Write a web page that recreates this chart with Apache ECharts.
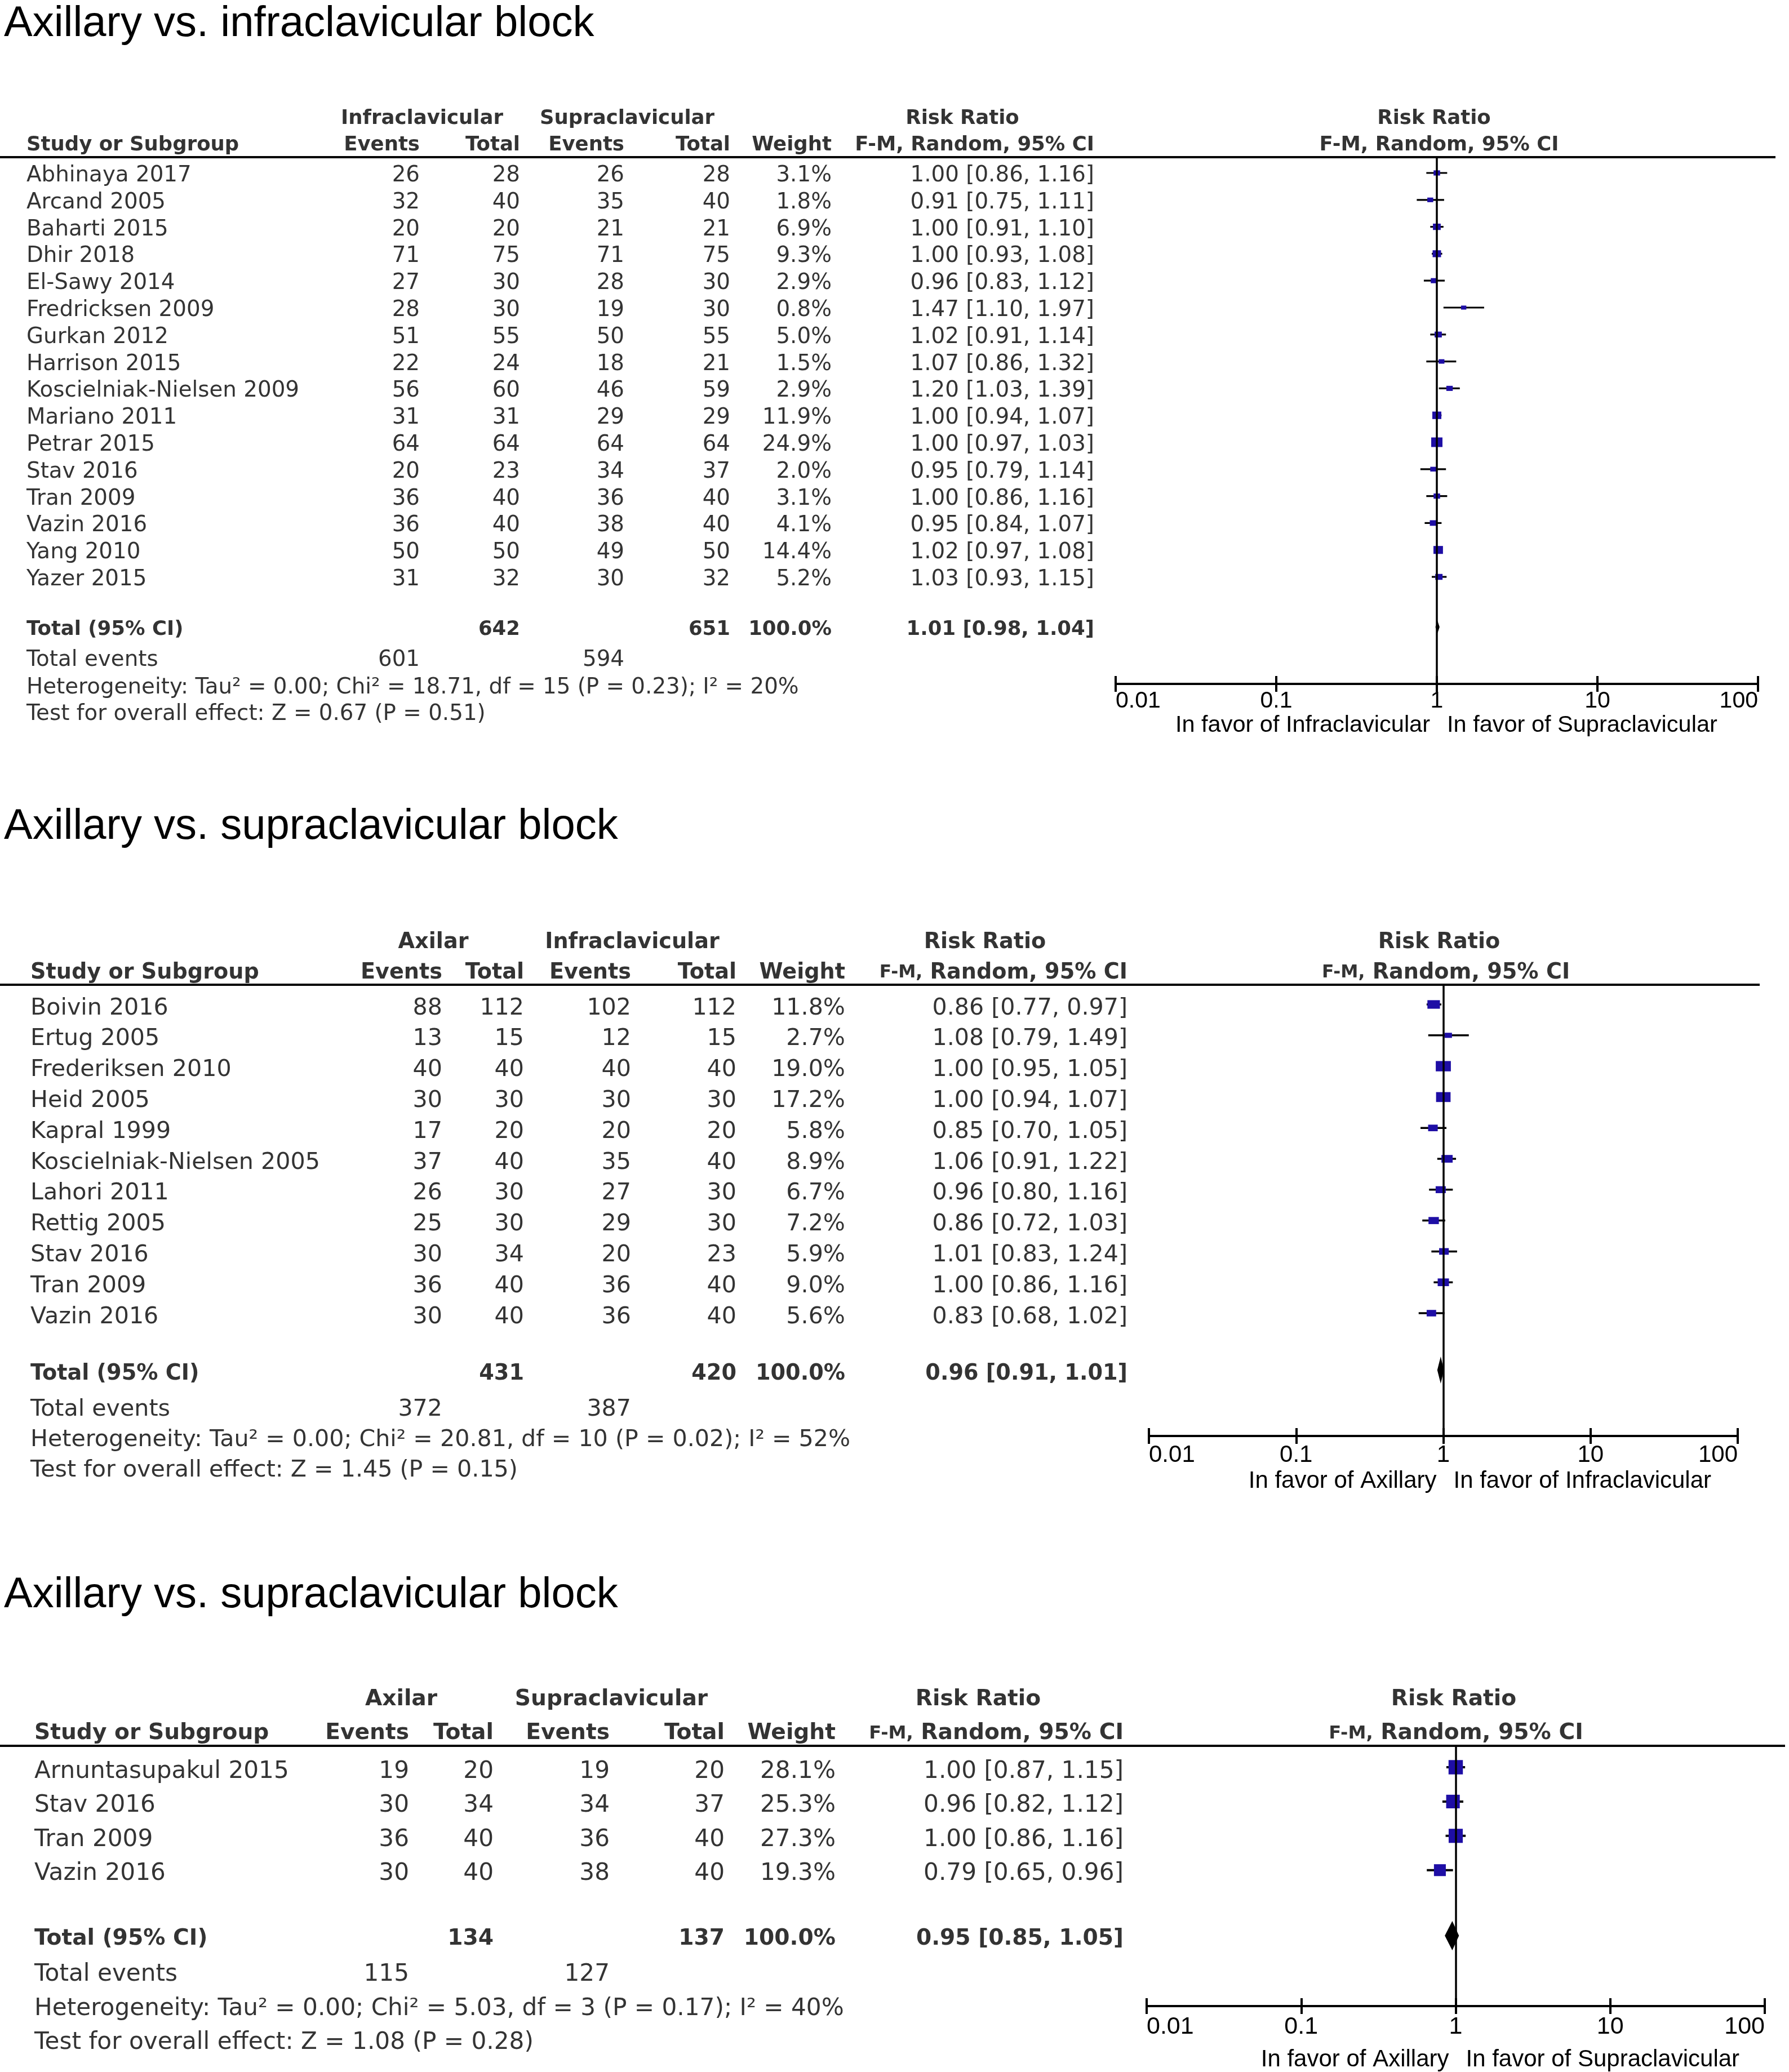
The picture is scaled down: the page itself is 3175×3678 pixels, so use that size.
<!DOCTYPE html>
<html><head><meta charset="utf-8">
<script src="https://cdn.jsdelivr.net/npm/echarts@6/dist/echarts.min.js"></script>
<style>html,body{margin:0;padding:0;background:#fff}#c{width:3175px;height:3678px}</style>
</head><body><div id="c"></div>
<script>
// ================= DATA =================
const titles = ['Axillary vs. infraclavicular block', 'Axillary vs. supraclavicular block', 'Axillary vs. supraclavicular block'];
const tickLabels = ['0.01', '0.1', '1', '10', '100'];

// Panel 1
const groups1 = ['Infraclavicular', 'Supraclavicular'];
const favors1 = ['In favor of Infraclavicular', 'In favor of Supraclavicular'];
const studies1 = ['Abhinaya 2017','Arcand 2005','Baharti 2015','Dhir 2018','El-Sawy 2014','Fredricksen 2009','Gurkan 2012','Harrison 2015','Koscielniak-Nielsen 2009','Mariano 2011','Petrar 2015','Stav 2016','Tran 2009','Vazin 2016','Yang 2010','Yazer 2015'];
const eventsA1 = [26,32,20,71,27,28,51,22,56,31,64,20,36,36,50,31];
const totalsA1 = [28,40,20,75,30,30,55,24,60,31,64,23,40,40,50,32];
const eventsB1 = [26,35,21,71,28,19,50,18,46,29,64,34,36,38,49,30];
const totalsB1 = [28,40,21,75,30,30,55,21,59,29,64,37,40,40,50,32];
const weights1 = [3.1,1.8,6.9,9.3,2.9,0.8,5.0,1.5,2.9,11.9,24.9,2.0,3.1,4.1,14.4,5.2];
const rr1 = [1.00,0.91,1.00,1.00,0.96,1.47,1.02,1.07,1.20,1.00,1.00,0.95,1.00,0.95,1.02,1.03];
const lo1 = [0.86,0.75,0.91,0.93,0.83,1.10,0.91,0.86,1.03,0.94,0.97,0.79,0.86,0.84,0.97,0.93];
const hi1 = [1.16,1.11,1.10,1.08,1.12,1.97,1.14,1.32,1.39,1.07,1.03,1.14,1.16,1.07,1.08,1.15];
const sums1 = [642, 651, 601, 594];          // totalA, totalB, eventsA, eventsB
const pooled1 = [1.01, 0.98, 1.04];
const stats1 = ['Heterogeneity: Tau² = 0.00; Chi² = 18.71, df = 15 (P = 0.23); I² = 20%', 'Test for overall effect: Z = 0.67 (P = 0.51)'];

// Panel 2
const groups2 = ['Axilar', 'Infraclavicular'];
const favors2 = ['In favor of Axillary', 'In favor of Infraclavicular'];
const studies2 = ['Boivin 2016','Ertug 2005','Frederiksen 2010','Heid 2005','Kapral 1999','Koscielniak-Nielsen 2005','Lahori 2011','Rettig 2005','Stav 2016','Tran 2009','Vazin 2016'];
const eventsA2 = [88,13,40,30,17,37,26,25,30,36,30];
const totalsA2 = [112,15,40,30,20,40,30,30,34,40,40];
const eventsB2 = [102,12,40,30,20,35,27,29,20,36,36];
const totalsB2 = [112,15,40,30,20,40,30,30,23,40,40];
const weights2 = [11.8,2.7,19.0,17.2,5.8,8.9,6.7,7.2,5.9,9.0,5.6];
const rr2 = [0.86,1.08,1.00,1.00,0.85,1.06,0.96,0.86,1.01,1.00,0.83];
const lo2 = [0.77,0.79,0.95,0.94,0.70,0.91,0.80,0.72,0.83,0.86,0.68];
const hi2 = [0.97,1.49,1.05,1.07,1.05,1.22,1.16,1.03,1.24,1.16,1.02];
const sums2 = [431, 420, 372, 387];
const pooled2 = [0.96, 0.91, 1.01];
const stats2 = ['Heterogeneity: Tau² = 0.00; Chi² = 20.81, df = 10 (P = 0.02); I² = 52%', 'Test for overall effect: Z = 1.45 (P = 0.15)'];

// Panel 3
const groups3 = ['Axilar', 'Supraclavicular'];
const favors3 = ['In favor of Axillary', 'In favor of Supraclavicular'];
const studies3 = ['Arnuntasupakul 2015','Stav 2016','Tran 2009','Vazin 2016'];
const eventsA3 = [19,30,36,30];
const totalsA3 = [20,34,40,40];
const eventsB3 = [19,34,36,38];
const totalsB3 = [20,37,40,40];
const weights3 = [28.1,25.3,27.3,19.3];
const rr3 = [1.00,0.96,1.00,0.79];
const lo3 = [0.87,0.82,0.86,0.65];
const hi3 = [1.15,1.12,1.16,0.96];
const sums3 = [134, 137, 115, 127];
const pooled3 = [0.95, 0.85, 1.05];
const stats3 = ['Heterogeneity: Tau² = 0.00; Chi² = 5.03, df = 3 (P = 0.17); I² = 40%', 'Test for overall effect: Z = 1.08 (P = 0.28)'];

// ================= LAYOUT (pixels) =================
const W = 3175;
const BLUE = '#1e0ea5';
const TFONT = 'DejaVu Sans';
const HFONT = 'Liberation Sans';
const layouts = [
  { titleTop: 5, fsR: 38.8, fsB: 35.5, tOff: 5, y0: 307, dy: 47.8, h1Y: 206, h2Y: 253, lineY: 279, lineX1: 3151,
    totY: 1113, teY: 1167, hetY: 1216, testY: 1263, axisY: 1214, ax0: 1980, ax1: 3120,
    nameX: 47, cEvA: 745, cTotA: 923, cEvB: 1108, cTotB: 1296, cW: 1476, cCI: 1942,
    gA: 749, gB: 1113, rrC: 1708, fC1: 2545, fC2: 2554, smallFM: false,
    tickFs: 41, nameFs: 41.5, labMargin: 10, nameGap: 53, diamH: 11, ciW: 3.2,
    sq: s => [7 + 2.6 * s, 5 + 2.4 * s] },
  { titleTop: 1430, fsR: 41.2, fsB: 38.2, tOff: 7, y0: 1783, dy: 54.8, h1Y: 1666, h2Y: 1720, lineY: 1748, lineX1: 3123,
    totY: 2432, teY: 2495, hetY: 2549, testY: 2603, axisY: 2549, ax0: 2039, ax1: 3084,
    nameX: 54, cEvA: 785, cTotA: 930, cEvB: 1120, cTotB: 1307, cW: 1500, cCI: 2001,
    gA: 769, gB: 1122, rrC: 1748, fC1: 2554, fC2: 2566, smallFM: true,
    tickFs: 42, nameFs: 42, labMargin: 13, nameGap: 59, diamH: 24, ciW: 3.5,
    sq: s => [5 + 5.0 * s, 3.5 + 3.4 * s] },
  { titleTop: 2794, fsR: 42.2, fsB: 39.2, tOff: 9, y0: 3137, dy: 60.9, h1Y: 3008, h2Y: 3069, lineY: 3100, lineX1: 3168,
    totY: 3436, teY: 3500, hetY: 3561, testY: 3622, axisY: 3561, ax0: 2035, ax1: 3132,
    nameX: 61, cEvA: 726, cTotA: 876, cEvB: 1082, cTotB: 1286, cW: 1483, cCI: 1994,
    gA: 712, gB: 1085, rrC: 1736, fC1: 2580, fC2: 2584, smallFM: true,
    tickFs: 43, nameFs: 42, labMargin: 16, nameGap: 74, diamH: 26, ciW: 4,
    sq: s => [4.8 * s, 4.8 * s] }
];

const panels = [
  { title: titles[0], groups: groups1, favors: favors1, studies: studies1, evA: eventsA1, totA: totalsA1, evB: eventsB1, totB: totalsB1, w: weights1, rr: rr1, lo: lo1, hi: hi1, sums: sums1, pooled: pooled1, stats: stats1, lay: layouts[0] },
  { title: titles[1], groups: groups2, favors: favors2, studies: studies2, evA: eventsA2, totA: totalsA2, evB: eventsB2, totB: totalsB2, w: weights2, rr: rr2, lo: lo2, hi: hi2, sums: sums2, pooled: pooled2, stats: stats2, lay: layouts[1] },
  { title: titles[2], groups: groups3, favors: favors3, studies: studies3, evA: eventsA3, totA: totalsA3, evB: eventsB3, totB: totalsB3, w: weights3, rr: rr3, lo: lo3, hi: hi3, sums: sums3, pooled: pooled3, stats: stats3, lay: layouts[2] }
];

const ci = (a, b, c) => a.toFixed(2) + ' [' + b.toFixed(2) + ', ' + c.toFixed(2) + ']';

const grid = [], xAxis = [], yAxis = [], series = [], title = [];

panels.forEach((P) => {
  const L = P.lay;
  const r = y => (y - L.y0) / L.dy;

  title.push({ text: P.title, left: 7, top: L.titleTop, padding: 0,
    textStyle: { fontFamily: HFONT, fontSize: 76, fontWeight: 'normal', color: '#000' } });

  // ---------- table grid ----------
  const tMin = r(L.h1Y) - 1, tMax = r(L.testY) + 1;
  grid.push({ left: 0, width: W, top: L.y0 + tMin * L.dy, height: (tMax - tMin) * L.dy });
  const tg = grid.length - 1;
  xAxis.push({ gridIndex: tg, type: 'value', min: 0, max: W, show: false });
  const tx = xAxis.length - 1;
  yAxis.push({ gridIndex: tg, type: 'value', min: tMin, max: tMax, inverse: true, show: false });
  const ty = yAxis.length - 1;

  const rich = { fm: { fontFamily: TFONT, fontSize: L.fsB * 0.82, fontWeight: 'bold', color: '#000' } };
  const addText = (items, align, bold, extra) => {
    series.push(Object.assign({
      type: 'scatter', xAxisIndex: tx, yAxisIndex: ty, symbolSize: 0, silent: true, animation: false,
      data: items.map(it => ({ value: [it[0], it[1]], label: { formatter: String(it[2]) } })),
      label: { show: true, position: [0, 0], offset: [0, L.tOff], align: align, verticalAlign: 'middle',
        fontFamily: TFONT, fontSize: bold ? L.fsB : L.fsR, fontWeight: bold ? 'bold' : 'normal', color: '#000', rich: rich }
    }, extra || {}));
  };
  const col = (x, arr, fmt) => arr.map((v, i) => [x, i, fmt ? fmt(v) : v]);

  // header rows
  const fmText = L.smallFM ? '{fm|F-M,} Random, 95% CI' : 'F-M, Random, 95% CI';
  addText([[L.gA, r(L.h1Y), P.groups[0]], [L.gB, r(L.h1Y), P.groups[1]], [L.rrC, r(L.h1Y), 'Risk Ratio'],
           [L.fC1, r(L.h1Y), 'Risk Ratio'], [L.fC2, r(L.h2Y), fmText]], 'center', true);
  addText([[L.nameX, r(L.h2Y), 'Study or Subgroup']], 'left', true, {
    markLine: { silent: true, symbol: ['none', 'none'], label: { show: false }, animation: false,
      lineStyle: { color: '#000', width: 4, type: 'solid' },
      data: [[{ coord: [0, r(L.lineY)] }, { coord: [L.lineX1, r(L.lineY)] }]] }
  });
  addText([[L.cEvA, r(L.h2Y), 'Events'], [L.cTotA, r(L.h2Y), 'Total'], [L.cEvB, r(L.h2Y), 'Events'],
           [L.cTotB, r(L.h2Y), 'Total'], [L.cW, r(L.h2Y), 'Weight'], [L.cCI, r(L.h2Y), fmText]], 'right', true);

  // study rows
  addText(col(L.nameX, P.studies), 'left', false);
  addText([].concat(col(L.cEvA, P.evA), col(L.cTotA, P.totA), col(L.cEvB, P.evB), col(L.cTotB, P.totB),
    col(L.cW, P.w, v => v.toFixed(1) + '%'),
    P.rr.map((v, i) => [L.cCI, i, ci(v, P.lo[i], P.hi[i])])), 'right', false);

  // totals and footer
  addText([[L.nameX, r(L.totY), 'Total (95% CI)']], 'left', true);
  addText([[L.cTotA, r(L.totY), P.sums[0]], [L.cTotB, r(L.totY), P.sums[1]], [L.cW, r(L.totY), '100.0%'],
           [L.cCI, r(L.totY), ci(P.pooled[0], P.pooled[1], P.pooled[2])]], 'right', true);
  addText([[L.nameX, r(L.teY), 'Total events'], [L.nameX, r(L.hetY), P.stats[0]], [L.nameX, r(L.testY), P.stats[1]]], 'left', false);
  addText([[L.cEvA, r(L.teY), P.sums[2]], [L.cEvB, r(L.teY), P.sums[3]]], 'right', false);

  // ---------- forest grid (+ overlay grid for upward ticks) ----------
  const fgBox = { left: L.ax0, width: L.ax1 - L.ax0, top: L.lineY, height: L.axisY - L.lineY };
  grid.push(Object.assign({}, fgBox));
  const fg = grid.length - 1;
  grid.push(Object.assign({}, fgBox));
  const og = grid.length - 1;
  const logAxis = {
    type: 'log', logBase: 10, min: 0.01, max: 100, position: 'bottom',
    splitLine: { show: false }, nameLocation: 'middle', nameGap: L.nameGap,
    axisLine: { show: true, onZero: false, lineStyle: { color: '#000', width: 4 } }
  };
  xAxis.push(Object.assign({ gridIndex: fg }, logAxis, {
    axisTick: { show: true, inside: false, length: 14, lineStyle: { color: '#000', width: 4 } },
    axisLabel: { show: true, margin: L.labMargin, fontFamily: HFONT, fontSize: L.tickFs, color: '#000',
      alignMinLabel: 'left', alignMaxLabel: 'right',
      formatter: v => tickLabels[Math.round(Math.log10(v)) + 2] },
    name: P.favors[0],
    nameTextStyle: { fontFamily: HFONT, fontSize: L.nameFs, color: '#000', align: 'right', padding: [0, 12, 0, 0] }
  }));
  const fx = xAxis.length - 1;
  xAxis.push(Object.assign({ gridIndex: og }, logAxis, {
    axisTick: { show: true, inside: true, length: 14, lineStyle: { color: '#000', width: 4 } },
    axisLabel: { show: false },
    name: P.favors[1],
    nameTextStyle: { fontFamily: HFONT, fontSize: L.nameFs, color: '#000', align: 'left', padding: [0, 0, 0, 18] }
  }));
  yAxis.push({ gridIndex: fg, type: 'value', min: r(L.lineY), max: r(L.axisY), inverse: true, show: false });
  const fy = yAxis.length - 1;
  yAxis.push({ gridIndex: og, type: 'value', min: r(L.lineY), max: r(L.axisY), inverse: true, show: false });

  // CI lines + line of no effect
  series.push({
    type: 'custom', xAxisIndex: fx, yAxisIndex: fy, silent: true, animation: false, z: 2,
    data: P.lo.map((l, i) => [l, P.hi[i], i]),
    encode: { x: [0, 1], y: 2 },
    renderItem: (params, api) => {
      const a = api.coord([api.value(0), api.value(2)]);
      const b = api.coord([api.value(1), api.value(2)]);
      return { type: 'line', shape: { x1: a[0], y1: a[1], x2: b[0], y2: b[1] },
        style: { stroke: '#000', lineWidth: L.ciW } };
    },
    markLine: { silent: true, symbol: ['none', 'none'], label: { show: false }, animation: false,
      lineStyle: { color: '#000', width: 3.5, type: 'solid' }, data: [{ xAxis: 1 }] }
  });
  // squares
  series.push({
    type: 'scatter', xAxisIndex: fx, yAxisIndex: fy, silent: true, animation: false, z: 3,
    symbol: 'rect', itemStyle: { color: BLUE, opacity: 1 },
    data: P.rr.map((v, i) => ({ value: [v, i], symbolSize: L.sq(Math.sqrt(P.w[i])) }))
  });
  // pooled diamond
  series.push({
    type: 'custom', xAxisIndex: fx, yAxisIndex: fy, silent: true, animation: false, z: 4,
    data: [[P.pooled[1], P.pooled[0], P.pooled[2], r(L.totY)]],
    encode: { x: [0, 1, 2], y: 3 },
    renderItem: (params, api) => {
      const y = api.value(3);
      const a = api.coord([api.value(0), y]);
      const m = api.coord([api.value(1), y]);
      const b = api.coord([api.value(2), y]);
      return { type: 'polygon',
        shape: { points: [a, [m[0], m[1] - L.diamH], b, [m[0], m[1] + L.diamH]] },
        style: { fill: '#000' } };
    }
  });
});

const chart = echarts.init(document.getElementById('c'), null, { renderer: 'canvas' });
chart.setOption({ backgroundColor: '#fff', animation: false, title, grid, xAxis, yAxis, series });
</script>
</body></html>
